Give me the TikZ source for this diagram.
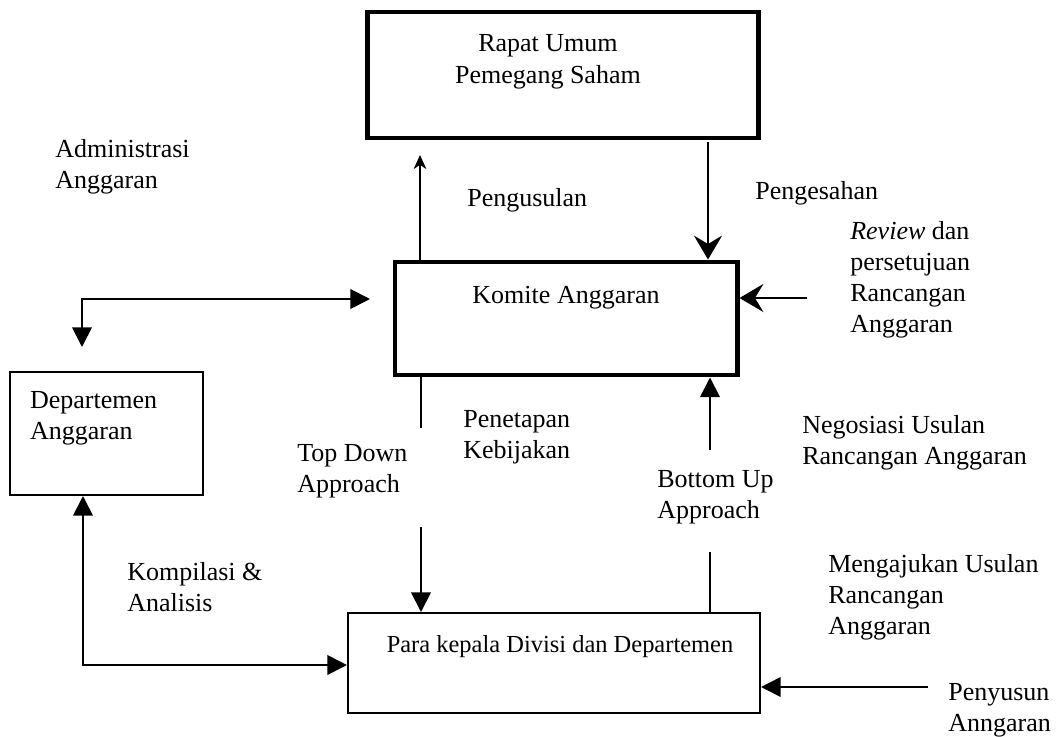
\documentclass[tikz,border=0pt]{standalone}
\usepackage{fontspec}
\setmainfont{Liberation Serif}
\usetikzlibrary{arrows.meta}
\usetikzlibrary{positioning}
\newcommand{\Budget}{Anggaran}
\newcommand{\Draft}{Rancangan}
\tikzstyle{heavybox} = [rectangle, draw=black, line width=3.5pt, inner sep=0pt]
\tikzstyle{lightbox} = [rectangle, draw=black, line width=1.4pt, inner sep=0pt]
\tikzstyle{boxtext} = [inner sep=0pt, align=center, font=\fontsize{18.5}{22.5}\selectfont]
\tikzstyle{note} = [inner sep=0pt, align=left, anchor=west, font=\fontsize{18.5}{22}\selectfont]
\tikzstyle{flow} = [line width=1.3pt]
\tikzstyle{sharp} = [line width=1.3pt, -{Stealth[length=17pt,width=20pt,inset=6pt]}]

\begin{document}
\begin{tikzpicture}[x=0.025cm, y=-0.025cm, >={Triangle[length=14pt,width=14pt]}]
\useasboundingbox (0,0) rectangle (1057,736);

% Define nodes
\node[heavybox, minimum width=9.75cm, minimum height=3.15cm]   (rapat)  at (563,75)      {};
\node[heavybox, minimum width=8.55cm, minimum height=2.825cm]  (komite) at (566,318.5)   {};
\node[lightbox, minimum width=4.825cm, minimum height=3.075cm] (dept)   at (106.5,433.5) {};
\node[lightbox, minimum width=10.3cm, minimum height=2.5cm]    (para)   at (554,663)     {};

\node[boxtext, below = 0.62cm of rapat.north, xshift=-0.375cm] (rapatT)  {Rapat Umum\\Pemegang Saham};
\node[boxtext, below = 0.67cm of komite.north]                 (komiteT) {Komite \Budget};
\node[boxtext, align=left, below right = 0.5cm and 0.52cm of dept.north west] (deptT) {Departemen\\\Budget};
\node[boxtext, below = 0.57cm of para.north, xshift=0.15cm, font=\fontsize{17.4}{21}\selectfont] (paraT) {Para kepala Divisi dan Departemen};

\node[note] (adm)   at (55,167)   {Administrasi\\\Budget};
\node[note] (usul)  at (467,200)  {Pengusulan};
\node[note] (sah)   at (755,193)  {Pengesahan};
\node[note] (rev)   at (850,280)  {\textit{Review} dan\\persetujuan\\\Draft\\\Budget};
\node[note] (tetap) at (463,437.5){Penetapan\\Kebijakan};
\node[note] (td)    at (297,471)  {Top Down\\Approach};
\node[note] (bu)    at (657,497)  {Bottom Up\\Approach};
\node[note] (nego)  at (802,443)  {Negosiasi Usulan\\\Draft{} \Budget};
\node[note] (komp)  at (127,587.5){Kompilasi \&\\Analisis};
\node[note] (aju)   at (828,597)  {Mengajukan Usulan\\\Draft\\\Budget};
\node[note] (susun) at (948,710)  {Penyusun\\Anngaran};

% Edges
\coordinate (usulTip) at (420,155);
\coordinate (sahTail) at (708,142);
\coordinate (revTail) at (807,298);
\coordinate (admD)    at (82,347);
\coordinate (admK)    at (370,299);
\coordinate (tdA)     at (421,428);
\coordinate (tdB)     at (421,527);
\coordinate (buA)     at (710,450);
\coordinate (buB)     at (710,552);
\coordinate (kmp)     at (83,665);
\coordinate (pnyTail) at (928,687);

\draw[line width=1pt, -{Stealth[length=10pt,width=9pt,inset=3pt]}] (komite.north -| usulTip) -- (usulTip);
\draw[sharp] (sahTail) -- (komite.north -| sahTail);
\draw[sharp] (revTail) -- (komite.east |- revTail);
\draw[flow, <->] (admD) |- (admK);
\draw[flow]      (komite.south -| tdA) -- (tdA);
\draw[flow, ->]  (tdB) -- (para.north -| tdB);
\draw[flow, ->]  (buA) -- (komite.south -| buA);
\draw[flow]      (para.north -| buB) -- (buB);
\draw[flow, <->] (dept.south -| kmp) |- (para.west |- kmp);
\draw[flow, ->]  (pnyTail) -- (para.east |- pnyTail);
\end{tikzpicture}
\end{document}
